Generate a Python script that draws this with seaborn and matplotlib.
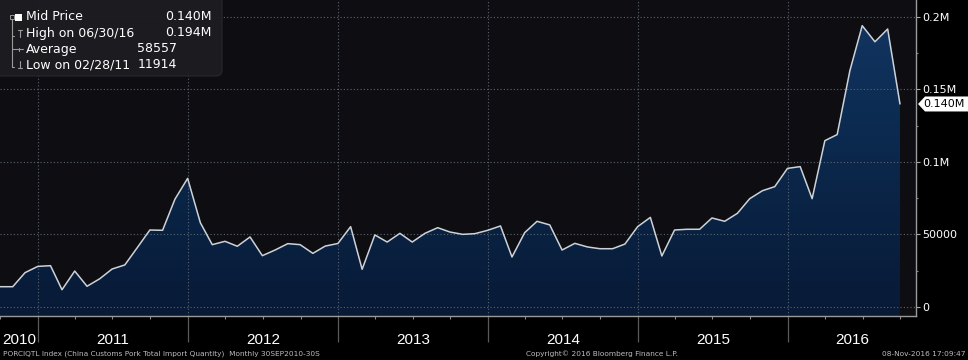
import numpy as np
import pandas as pd
import matplotlib
matplotlib.use("Agg")
import matplotlib.pyplot as plt
import matplotlib.dates as mdates
import matplotlib.ticker as mticker
import matplotlib.transforms as mtrans
from matplotlib.patches import FancyBboxPatch, Polygon
from matplotlib.lines import Line2D
from matplotlib.colors import LinearSegmentedColormap
import seaborn as sns

# ---------------- data ----------------
first_month = "2010-09-30"
axis_end = "2016-11-08"
v2010 = [14000, 14000, 23700, 28000]
v2011 = [28500, 11914, 24800, 14300, 19500, 26200, 29000, 41200, 53100, 52900, 74300, 88700]
v2012 = [58100, 43000, 45300, 41900, 48300, 35400, 39300, 43700, 43000, 37000, 42000, 43800]
v2013 = [55400, 26000, 49700, 44800, 50800, 44800, 50800, 54700, 51700, 50100, 50600, 52900]
v2014 = [55900, 34500, 51300, 59100, 56600, 39300, 43900, 41400, 40200, 40200, 43400, 55400]
v2015 = [61800, 35200, 53100, 53600, 53600, 61400, 59100, 64600, 74700, 80200, 83000, 95600]
v2016 = [96800, 74700, 114700, 118900, 163000, 194000, 182900, 191700, 140000]
values = v2010 + v2011 + v2012 + v2013 + v2014 + v2015 + v2016
dates = pd.date_range(first_month, periods=len(values), freq="ME")

year_labels = ["2010", "2011", "2012", "2013", "2014", "2015", "2016"]
y_ticks = [0, 50000, 100000, 150000, 200000]
y_tick_labels = ["0", "50000", "0.1M", "0.15M", "0.2M"]
legend_labels = ["Mid Price", "High on 06/30/16", "Average", "Low on 02/28/11"]
legend_values = ["0.140M", "0.194M", "58557", "11914"]
last_label = "0.140M"
footer_left = "PORCIQTL Index (China Customs Pork Total Import Quantity)  Monthly 30SEP2010-30S"
footer_mid = "Copyright\u00a9 2016 Bloomberg Finance L.P."
footer_right = "08-Nov-2016 17:09:47"

# ---------------- style ----------------
sns.set_style("dark", rc={"axes.facecolor": "#0e0e12", "figure.facecolor": "black",
                          "xtick.bottom": True, "ytick.right": True})
plt.rcParams["font.family"] = ["DejaVu Sans"]
year_font = ["Liberation Sans", "DejaVu Sans"]

W, H = 968, 360
fig = plt.figure(figsize=(W / 100, H / 100), dpi=100, facecolor="black")
ax = fig.add_axes([0, 1 - 316 / H, 916 / W, 316 / H])
ax.set_facecolor("#0e0e12")

ybot, ytop = -6200, 211700
x0 = pd.Timestamp(first_month)
x1 = pd.Timestamp(axis_end)

df = pd.DataFrame({"date": dates, "value": values})
sns.lineplot(data=df, x="date", y="value", ax=ax, color="#cdd2d8", linewidth=1.1, zorder=6)

poly = ax.fill_between(df["date"], df["value"], ybot, facecolor="none", edgecolor="none")
cmap = LinearSegmentedColormap.from_list("fillgrad", ["#081a36", "#0b284c", "#123663"])
grad = np.linspace(0, 1, 256).reshape(-1, 1)
im = ax.imshow(grad, extent=[mdates.date2num(dates[0]), mdates.date2num(dates[-1]), ybot, ytop],
               origin="lower", aspect="auto", cmap=cmap, zorder=2)
im.set_clip_path(poly.get_paths()[0], transform=ax.transData)

ax.set_xlim(x0, x1)
ax.set_ylim(ybot, ytop)
ax.set_xlabel("")
ax.set_ylabel("")
ax.grid(False)

# dotted grid
for yt in y_ticks:
    ax.axhline(yt, color="#5c6470", linestyle=(0, (1, 2)), linewidth=0.8, zorder=4)
year_starts = [pd.Timestamp(f"{int(y) + 1}-01-01") for y in year_labels[:-1]]
for ys in year_starts:
    ax.axvline(ys, color="#5c6470", linestyle=(0, (1, 2)), linewidth=0.8, zorder=4)

# spines
for s in ["left", "top"]:
    ax.spines[s].set_visible(False)
for s in ["bottom", "right"]:
    ax.spines[s].set_visible(True)
    ax.spines[s].set_color("#9a9a9a")
    ax.spines[s].set_linewidth(1.0)

# y axis on right
ax.yaxis.tick_right()
ax.set_yticks(y_ticks)
ax.set_yticklabels(y_tick_labels)
ax.yaxis.set_minor_locator(mticker.MultipleLocator(25000))
ax.tick_params(axis="y", which="major", direction="out", length=3, width=0.8,
               color="#aaaaaa", labelcolor="white", labelsize=8, pad=1.5,
               left=False, right=True, labelleft=False, labelright=True)
ax.tick_params(axis="y", which="minor", direction="out", length=1.5, width=0.8,
               color="#888888", left=False, right=True)

# x axis ticks
ax.xaxis.set_major_locator(mdates.YearLocator())
ax.xaxis.set_minor_locator(mdates.MonthLocator(bymonth=[1, 4, 7, 10]))
ax.tick_params(axis="x", which="major", direction="out", length=19, width=0.9,
               color="#5a5a5a", bottom=True, labelbottom=False)
ax.tick_params(axis="x", which="minor", direction="out", length=2.2, width=0.8,
               color="#8a8a8a", bottom=True)

# year labels centred on visible year spans
blend = mtrans.blended_transform_factory(ax.transData, fig.transFigure)
for lab in year_labels:
    s = max(pd.Timestamp(f"{lab}-01-01"), x0)
    e = min(pd.Timestamp(f"{int(lab) + 1}-01-01"), x1)
    c = s + (e - s) / 2
    ax.text(mdates.date2num(c), 1 - 340 / H, lab, transform=blend, ha="center", va="center",
            fontsize=11, family=year_font, color="white", clip_on=False)

# footer
fig.text(3 / W, 1 - 354 / H, footer_left, fontsize=5.3, color="#bcbcbc", va="center")
fig.text(602 / W, 1 - 354 / H, footer_mid, fontsize=5.3, color="#bcbcbc", va="center", ha="center")
fig.text(966 / W, 1 - 354 / H, footer_right, fontsize=5.3, color="#bcbcbc", va="center", ha="right")

# last value tag
fig.canvas.draw()
ypix = ax.transData.transform((0, values[-1]))[1]
hh = 7.5
tag = Polygon([[918, ypix], [925, ypix + hh], [968, ypix + hh], [968, ypix - hh], [925, ypix - hh]],
              closed=True, transform=mtrans.IdentityTransform(), facecolor="white",
              edgecolor="none", zorder=20)
fig.add_artist(tag)
fig.text(923.5 / W, ypix / H, last_label, fontsize=8, color="black", va="center", ha="left", zorder=21)

# legend box
box = FancyBboxPatch((-12, H - 76), 234, 90, boxstyle="round,pad=0,rounding_size=6",
                     transform=mtrans.IdentityTransform(), facecolor="#1d1d21",
                     edgecolor="#2a2a2e", linewidth=0.8, alpha=0.95, zorder=10)
fig.add_artist(box)

def P(x, y):
    return x / W, 1 - y / H

rows_y = [17, 33, 49, 65]
for lab, val, yy, xr in zip(legend_labels, legend_values, rows_y, [212, 212, 177, 177]):
    fig.text(*P(26, yy), lab, fontsize=9, color="white", va="center", ha="left", zorder=12)
    fig.text(*P(xr, yy), val, fontsize=9, color="white", va="center", ha="right", zorder=12)

gl = "#9a9a9a"
def seg(xa, ya, xb, yb, lw=0.8, c=gl):
    xs, ys = zip(P(xa, ya), P(xb, yb))
    fig.add_artist(Line2D(xs, ys, color=c, linewidth=lw, zorder=12))

# tree glyphs
fig.add_artist(FancyBboxPatch((9.5, H - 19), 4, 4, boxstyle="square,pad=0",
                              transform=mtrans.IdentityTransform(), facecolor="none",
                              edgecolor=gl, linewidth=0.7, zorder=12))
fig.add_artist(FancyBboxPatch((15, H - 20.5), 7, 7, boxstyle="square,pad=0",
                              transform=mtrans.IdentityTransform(), facecolor="white",
                              edgecolor="none", zorder=12))
seg(11.5, 19, 11.5, 67)
seg(11.5, 36, 13.5, 36)
seg(11.5, 49, 15, 49)
seg(11.5, 67, 14, 67)
# T glyph
seg(17.5, 30, 21.5, 30)
seg(19.5, 30, 19.5, 37)
# + glyph
seg(15, 49, 23, 49)
seg(19, 47.5, 19, 50.5)
# inverted T glyph
seg(19.5, 61, 19.5, 68)
seg(17.5, 68, 21.5, 68)

fig.savefig("out.png", dpi=100, facecolor="black")
